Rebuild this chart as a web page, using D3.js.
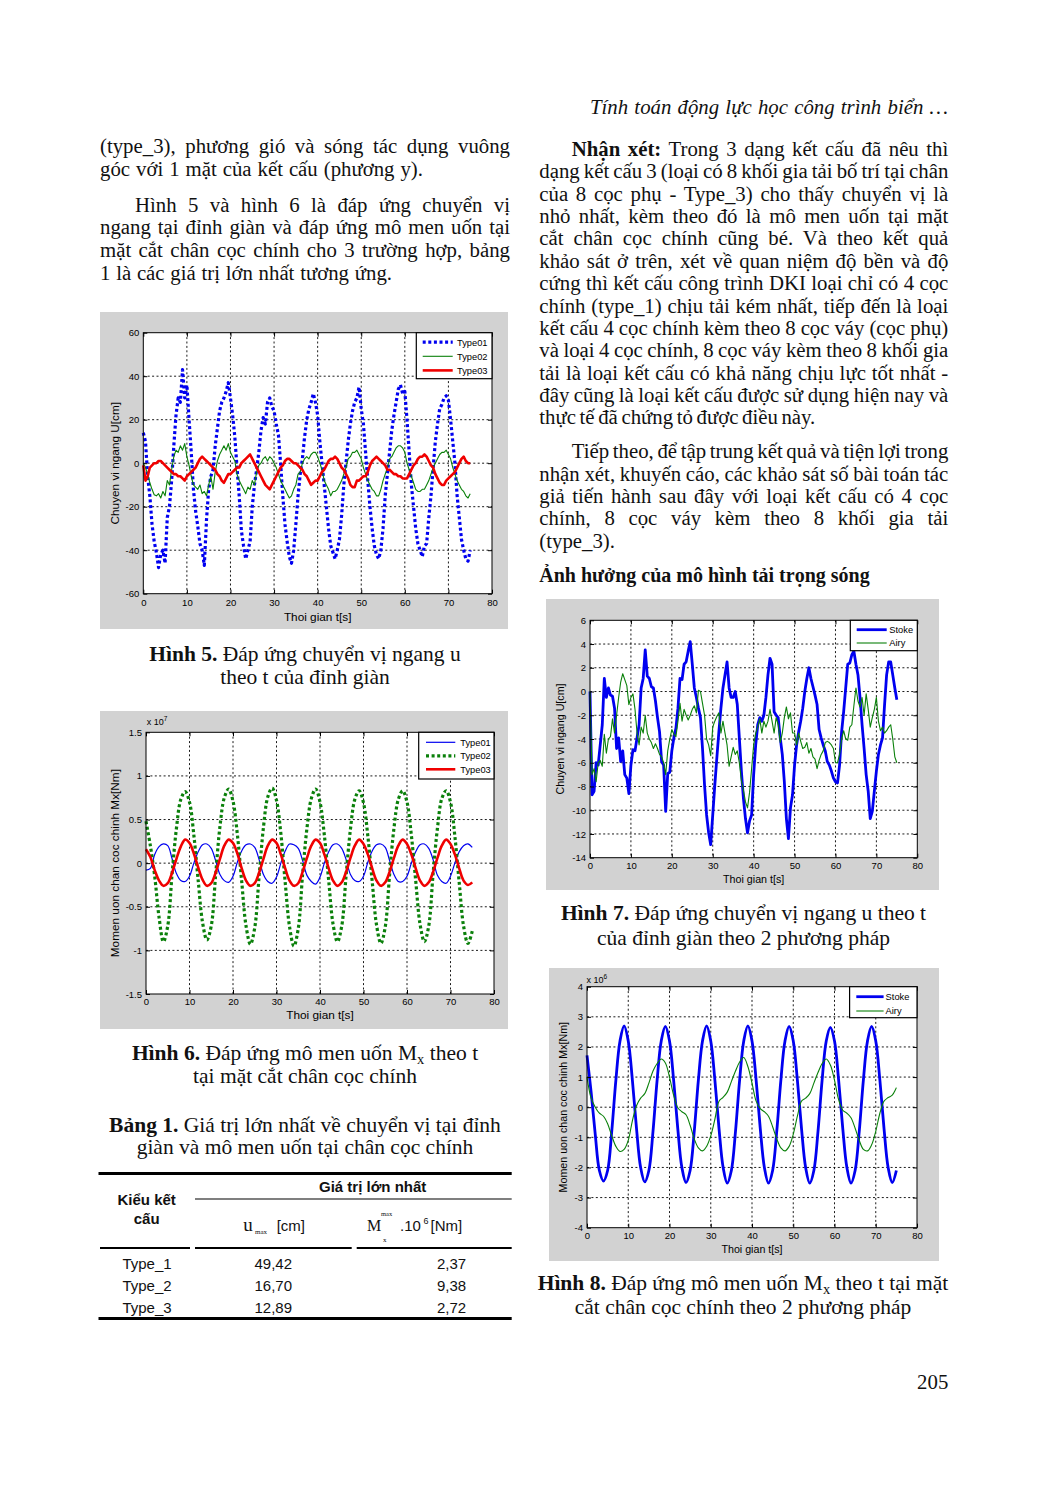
<!DOCTYPE html>
<html><head><meta charset="utf-8">
<script src="https://cdn.jsdelivr.net/npm/d3@7"></script>
<style>
html,body{margin:0;padding:0;background:#fff;}
svg{display:block;}
text{white-space:pre;}
</style></head><body>
<svg id="page" width="1048" height="1487"></svg>
<script>
// ---------------- DATA ----------------
const xTicks = [0, 10, 20, 30, 40, 50, 60, 70, 80];
const fig5YTicks = [-60, -40, -20, 0, 20, 40, 60];
const fig6YTicks = [-1.5, -1, -0.5, 0, 0.5, 1, 1.5];
const fig7YTicks = [-14, -12, -10, -8, -6, -4, -2, 0, 2, 4, 6];
const fig8YTicks = [-4, -3, -2, -1, 0, 1, 2, 3, 4];

// Hình 5 : chuyển vị U [cm], step 0.5 s
const fig5Step = 0.5;
const fig5Type01 = [
 14, 10, -6, -15, -28, -36, -41, -48, -42, -40,
 -46, -25, -20, -8, 8, 22, 30, 28, 43, 30,
 36, 20, 5, -12, -22, -29, -37, -40, -47, -26,
 -12, -6, -3, 8, 16, 24, 28, 30, 33, 37,
 30, 22, 12, -2, -15, -31, -38, -44, -40, -36,
 -20, -10, -3, 5, 15, 21, 18, 28, 30, 26,
 24, 18, 13, 0, -15, -28, -36, -43, -46, -40,
 -28, -15, -5, 2, 12, 20, 25, 28, 32, 28,
 22, 10, 0, -10, -20, -30, -38, -41, -44, -40,
 -35, -24, -10, 0, 10, 18, 24, 28, 30, 35,
 25, 18, 5, -8, -20, -30, -38, -42, -44, -40,
 -30, -15, -5, 5, 15, 22, 28, 34, 36, 32,
 33, 20, 5, -10, -20, -30, -37, -40, -43, -38,
 -37, -25, -15, -2, 10, 18, 25, 27, 30, 31,
 29, 20, 10, 0, -15, -25, -35, -40, -44, -45,
 -40];
const fig5Type02 = [
 0, -2, -5, -9, -12, -14.5, -15, -14, -16, -13,
 -15, -8, -10, -3, 3, 6, 5, 8, 6, 9,
 3, -1, -6, -10, -11, -12, -10, -14, -13, -15,
 -10, -6, -12, -4, 1, 4, 6, 8, 6, 9,
 5, 3, 1, -5, -8, -10, -12, -14, -11, -12,
 -8, -10, -4, -1, 0, 2, 3, 1, 3, 2,
 0, -2, -5, -8, -10, -12, -14, -16, -15, -12,
 -10, -5, -4, 0, 2, 3, 2, 4, 5, 5,
 3, 0, -3, -8, -10, -12, -15, -13, -13, -12,
 -10, -8, -5, -2, 2, 3, 5, 5, 6, 4,
 2, -2, -5, -8, -10, -12, -13, -15, -15, -12,
 -8, -5, -2, 2, 3, 5, 7, 8, 8, 7,
 5, 0, -3, -6, -9, -12, -13, -13, -12, -12,
 -10, -8, -5, -2, 0, 2, 4, 5, 5, 6,
 4, 2, -2, -5, -8, -10, -12, -13, -15, -16,
 -14];
const fig5Type03 = [
 -1, -8, -6, -2, -1, 0, 0, 1, 1, 0,
 -1, -2, -3, -4, -5, -5, -6, -6, -7, -8,
 -6, -5, -4, -3, -2, 0, 2, 3, 2, 1,
 0, -1, -2, -3, -5, -6, -8, -9, -7, -5,
 -5, -4, -3, -2, -2, 0, 1, 2, 3, 4,
 2, 0, -2, -4, -6, -8, -10, -11, -12, -10,
 -8, -6, -4, -2, -1, 1, 2, 2, 1, 0,
 0, -1, -2, -3, -5, -6, -8, -10, -9, -8,
 -8, -6, -4, -3, -1, 1, 2, 2, 3, 2,
 0, -2, -3, -5, -7, -10, -11, -11, -8, -8,
 -7, -6, -6, -4, -1, 1, 2, 3, 2, 1,
 0, -1, -3, -3, -4, -5, -5, -6, -6, -7,
 -7, -7, -5, -3, -1, 0, 2, 3, 3, 4,
 3, 1, -1, -2, -5, -7, -9, -10, -10, -8,
 -7, -6, -5, -4, -2, 0, 2, 3, 1, 0,
 0];

// Hình 6 : mô men Mx [x1e7 Nm], step 1 s
const fig6Step = 1;
const fig6Type01 = [
 -0.08, -0.06, 0.1, 0.19, 0.22, 0.2, 0.05, -0.12, -0.2, -0.21,
 -0.15, 0.0, 0.13, 0.21, 0.22, 0.17, 0.03, -0.13, -0.2, -0.22,
 -0.15, 0.01, 0.14, 0.21, 0.22, 0.18, 0.04, -0.13, -0.21, -0.23,
 -0.16, 0.0, 0.14, 0.22, 0.21, 0.17, 0.03, -0.14, -0.21, -0.24,
 -0.16, 0.0, 0.13, 0.21, 0.22, 0.17, 0.04, -0.13, -0.2, -0.21,
 -0.15, 0.01, 0.14, 0.21, 0.22, 0.18, 0.03, -0.13, -0.21, -0.21,
 -0.15, 0.0, 0.13, 0.21, 0.22, 0.17, 0.04, -0.14, -0.21, -0.23,
 -0.15, 0.0, 0.13, 0.2, 0.22, 0.18];
const fig6Type02 = [
 0.48, 0.2, -0.15, -0.62, -0.9, -0.72, -0.12, 0.4, 0.73, 0.82,
 0.7, 0.32, -0.2, -0.68, -0.88, -0.72, -0.14, 0.42, 0.75, 0.85,
 0.71, 0.33, -0.21, -0.72, -0.93, -0.74, -0.15, 0.41, 0.76, 0.86,
 0.72, 0.34, -0.22, -0.73, -0.95, -0.75, -0.13, 0.4, 0.74, 0.85,
 0.7, 0.32, -0.2, -0.7, -0.9, -0.72, -0.14, 0.39, 0.73, 0.83,
 0.69, 0.31, -0.21, -0.71, -0.92, -0.73, -0.13, 0.4, 0.73, 0.83,
 0.7, 0.32, -0.2, -0.7, -0.9, -0.72, -0.12, 0.4, 0.74, 0.83,
 0.7, 0.31, -0.22, -0.72, -0.92, -0.78];
const fig6Type03 = [
 0.16, 0.07, -0.08, -0.2, -0.26, -0.23, -0.11, 0.05, 0.19, 0.27,
 0.23, 0.11, -0.05, -0.19, -0.26, -0.23, -0.11, 0.05, 0.2, 0.27,
 0.23, 0.11, -0.06, -0.2, -0.26, -0.23, -0.11, 0.05, 0.2, 0.27,
 0.23, 0.1, -0.06, -0.2, -0.26, -0.23, -0.1, 0.06, 0.2, 0.27,
 0.23, 0.1, -0.06, -0.2, -0.26, -0.22, -0.1, 0.06, 0.2, 0.27,
 0.22, 0.1, -0.06, -0.2, -0.26, -0.22, -0.1, 0.06, 0.2, 0.27,
 0.22, 0.1, -0.06, -0.2, -0.26, -0.22, -0.1, 0.06, 0.2, 0.27,
 0.22, 0.1, -0.06, -0.2, -0.25, -0.22];

// Hình 7 : chuyển vị U [cm], step 0.5 s
const fig7Step = 0.5;
const fig7Stoke = [
 0, -8.7, -8.4, -6, -6.2, -4.5, -2.8, 1.1, -0.5, 0.3,
 -0.3, -0.4, -1.4, -4.8, -3.9, -5.9, -5, -7, -7.3, -8.6,
 -6.2, -4.9, -5, -3.9, -2.8, 0.3, 1.1, 3.5, 1.3, 1.1,
 0.4, 0.3, -0.8, -2.2, -3.4, -5.9, -6.2, -10.1, -6.9, -6.8,
 -5, -3.9, -3.1, -1.4, 1.1, 1.0, 2.3, 2.5, 3.4, 4.2,
 2.3, 0.3, -0.5, -1.4, -2.2, -4.8, -7.9, -10.4, -11.9, -12.9,
 -10.4, -7.9, -5.6, -3.4, -1.4, 0.3, 1.4, 2.5, 0.3, -0.5,
 -0.5, 0, -1.1, -3.9, -6.7, -9, -10.7, -11.9, -10.9, -10.4,
 -7, -4.5, -2.8, -2.2, -2.5, -2, -0.5, 1.4, 2.8, 2.3,
 -1.7, -2, -2.2, -3.9, -5.3, -7.6, -10.7, -12.4, -9.8, -8.7,
 -6.2, -4.5, -3.4, -2.5, -1.4, 0, 1.1, 2, 1.1, 0.4,
 -0.3, -1.1, -3.2, -3.9, -4.5, -5, -5.9, -6.2, -6.7, -7.3,
 -7.6, -7.7, -6.2, -3.4, -1.7, 0.3, 2.3, 2.4, 3.1, 3.4,
 2.3, 1.4, -0.5, -2.8, -4.8, -7, -8.4, -10.7, -10.1, -8.4,
 -6.7, -5.3, -4.5, -3.9, -1.1, 1.4, 2.5, 2.5, 1.4, 0.3,
 -0.7];
const fig7Airy = [
 0, -7, -6.5, -7.6, -6, -5.8, -6.3, -3.6, -5.2, -4,
 -3.8, -2.3, -3.5, -2, -0.5, 0.8, 1.5, 1, 0.5, -1.1,
 -0.5, -0.2, -1.5, -3.5, -4.5, -3, -3.5, -2, -3.5, -4,
 -4.3, -4.8, -4.4, -4.8, -5.3, -5.5, -6, -7, -5, -4,
 -3.2, -3.6, -3.8, -2.5, -1, -2.5, -1.5, -2, -2.4, -2,
 -1.5, -1.2, -1.8, 0.1, 0, -1, -2, -4, -4.5, -5.4,
 -3, -2.5, -2.1, -1.8, -3.5, -2.5, -3.5, -4.5, -6.3, -5.5,
 -4.7, -5.3, -5, -6, -7.5, -8.3, -9.3, -9.8, -8.5, -6.5,
 -4.5, -3.5, -3, -2.3, -3.5, -2.5, -3, -2.5, -1.5, -2.5,
 -3.5, -2.2, -2.8, -4.3, -3.5, -2.2, -1.3, -2.3, -1.8, -3.5,
 -3.5, -4.5, -3.5, -4.2, -4.8, -4.7, -4.3, -5.2, -4.8, -5.5,
 -5.7, -6.5, -5.8, -5.3, -5, -4.3, -4.2, -4.3, -4.5, -4.8,
 -6, -6, -5.3, -4, -3.3, -4, -4.1, -3, -2.8, -1.2,
 0.3, -0.8, -1.3, -0.5, -2, -0.2, -1.5, -3, -2.2, -1.5,
 -0.5, -2.5, -3.3, -3, -3.5, -3.3, -3, -2.8, -4, -5.5,
 -6];

// Hình 8 : mô men Mx [x1e6 Nm], step 1 s
const fig8Step = 1;
const fig8Stoke = [
 1.72, 0.5, -0.9, -2.1, -2.45, -2.1, -0.8, 0.9, 2.2, 2.7,
 2.2, 0.9, -0.7, -2.0, -2.48, -2.1, -0.8, 0.9, 2.2, 2.68,
 2.2, 0.9, -0.7, -2.0, -2.5, -2.1, -0.8, 0.9, 2.2, 2.7,
 2.2, 0.9, -0.7, -2.0, -2.52, -2.1, -0.8, 0.9, 2.2, 2.7,
 2.2, 0.9, -0.7, -2.0, -2.52, -2.1, -0.8, 0.9, 2.2, 2.68,
 2.2, 0.9, -0.7, -2.0, -2.52, -2.1, -0.8, 0.9, 2.2, 2.65,
 2.2, 0.9, -0.7, -2.0, -2.52, -2.1, -0.8, 0.9, 2.2, 2.68,
 2.2, 0.9, -0.7, -2.0, -2.5, -2.1];
const fig8Airy = [
 1.0, 0.3, 0.0, -0.2, -0.3, -0.55, -0.95, -1.3, -1.47, -1.4,
 -1.1, -0.45, 0.05, 0.3, 0.45, 0.8, 1.2, 1.45, 1.6, 1.47,
 1.0, 0.4, -0.02, -0.15, -0.25, -0.6, -1.05, -1.35, -1.45, -1.3,
 -0.95, -0.4, 0.2, 0.33, 0.5, 0.85, 1.2, 1.5, 1.65, 1.35,
 0.8, 0.2, -0.05, -0.15, -0.3, -0.65, -1.05, -1.35, -1.45, -1.3,
 -0.9, -0.3, 0.2, 0.3, 0.45, 0.8, 1.15, 1.45, 1.6, 1.4,
 0.9, 0.25, -0.1, -0.2, -0.35, -0.7, -1.1, -1.4, -1.45, -1.25,
 -0.8, -0.2, 0.2, 0.32, 0.4, 0.65];

// Bảng 1
const tableTypes = ["Type_1", "Type_2", "Type_3"];
const tableUmax = ["49,42", "16,70", "12,89"];
const tableMmax = ["2,37", "9,38", "2,72"];

// ---------------- DRAWING ----------------
const svg = d3.select('#page');
const SERIF = "'Liberation Serif','Times New Roman',Times,serif";
const SANS = "'Liberation Sans',Arial,Helvetica,sans-serif";
const FS = 20.8;
const CFS = 21.5;
const PANEL = '#d2d2d2';
const BLUE = '#0000f0', GREEN = '#0a800a', RED = '#f00000';

function fitSpacing(t, s, w) {
  if (!w) return;
  const n = (s.match(/ /g) || []).length;
  if (!n) return;
  const nat = t.node().getComputedTextLength();
  t.style('word-spacing', ((w - nat) / n) + 'px');
  const after = t.node().getComputedTextLength();
  if (Math.abs(after - nat) < 0.5 && Math.abs(w - nat) > 1) {
    t.style('word-spacing', null).attr('textLength', w).attr('lengthAdjust', 'spacing');
  }
}
function bodyLine(x, y, s, w, opts = {}) {
  const t = svg.append('text').attr('x', x).attr('y', y)
    .attr('font-family', SERIF).attr('font-size', opts.fs || FS).attr('fill', '#111');
  if (opts.italic) t.attr('font-style', 'italic');
  s.split('**').forEach((p, i) => { if (p) t.append('tspan').attr('font-weight', i % 2 ? 'bold' : null).text(p); });
  fitSpacing(t, s.replace(/\*\*/g, ''), w);
  return t;
}
function caption(cx, y, parts) {
  const t = svg.append('text').attr('x', cx).attr('y', y).attr('text-anchor', 'middle')
    .attr('font-family', SERIF).attr('font-size', CFS).attr('fill', '#111');
  let shifted = false;
  parts.forEach(p => {
    const ts = t.append('tspan').text(p.t);
    if (p.b) ts.attr('font-weight', 'bold');
    if (p.sub) { ts.attr('font-size', 14.5).attr('dy', 4); shifted = true; }
    else if (shifted) { ts.attr('dy', -4); shifted = false; }
  });
}

// Header, page number
bodyLine(590, 113.5, 'Tính toán động lực học công trình biển …', 358, { italic: true });
svg.append('text').attr('x', 948.3).attr('y', 1389).attr('text-anchor', 'end')
  .attr('font-family', SERIF).attr('font-size', FS).attr('fill', '#111').text('205');

// Left column text
const leftLines = [
  [100, 153.3, '(type_3), phương gió và sóng tác dụng vuông', 410],
  [100, 176.0, 'góc với 1 mặt của kết cấu (phương y).', 323],
  [135, 211.7, 'Hình 5 và hình 6 là đáp ứng chuyển vị', 375],
  [100, 234.3, 'ngang tại đỉnh giàn và đáp ứng mô men uốn tại', 410],
  [100, 257.0, 'mặt cắt chân cọc chính cho 3 trường hợp, bảng', 410],
  [100, 279.6, '1 là các giá trị lớn nhất tương ứng.', 292]
];
leftLines.forEach(l => bodyLine(l[0], l[1], l[2], l[3]));

// Right column text
const RX = 539.3, RW = 409, RI = 571.7;
const rightLines = [
  [RI, 156.0, '**Nhận xét:** Trong 3 dạng kết cấu đã nêu thì', RW - (RI - RX)],
  [RX, 178.4, 'dạng kết cấu 3 (loại có 8 khối gia tải bố trí tại chân', RW],
  [RX, 200.7, 'của 8 cọc phụ - Type_3) cho thấy chuyển vị là', RW],
  [RX, 223.1, 'nhỏ nhất, kèm theo đó là mô men uốn tại mặt', RW],
  [RX, 245.4, 'cắt chân cọc chính cũng bé. Và theo kết quả', RW],
  [RX, 267.8, 'khảo sát ở trên, xét về quan niệm độ bền và độ', RW],
  [RX, 290.1, 'cứng thì kết cấu công trình DKI loại chỉ có 4 cọc', RW],
  [RX, 312.5, 'chính (type_1) chịu tải kém nhất, tiếp đến là loại', RW],
  [RX, 334.8, 'kết cấu 4 cọc chính kèm theo 8 cọc váy (cọc phụ)', RW],
  [RX, 357.2, 'và loại 4 cọc chính, 8 cọc váy kèm theo 8 khối gia', RW],
  [RX, 379.5, 'tải là loại kết cấu có khả năng chịu lực tốt nhất -', RW],
  [RX, 401.9, 'đây cũng là loại kết cấu được sử dụng hiện nay và', RW],
  [RX, 424.2, 'thực tế đã chứng tỏ được điều này.', 276],
  [RI, 458.3, 'Tiếp theo, để tập trung kết quả và tiện lợi trong', RW - (RI - RX)],
  [RX, 480.7, 'nhận xét, khuyến cáo, các khảo sát số bài toán tác', RW],
  [RX, 503.0, 'giả tiến hành sau đây với loại kết cấu có 4 cọc', RW],
  [RX, 525.4, 'chính, 8 cọc váy kèm theo 8 khối gia tải', RW],
  [RX, 547.8, '(type_3).', 0]
];
rightLines.forEach(l => bodyLine(l[0], l[1], l[2], l[3]));
bodyLine(RX, 581.7, '**Ảnh hưởng của mô hình tải trọng sóng**', 0, { fs: 20 });

// Captions
caption(305, 661, [{ t: 'Hình 5.', b: true }, { t: ' Đáp ứng chuyển vị ngang u' }]);
caption(305, 683.5, [{ t: 'theo t của đỉnh giàn' }]);
caption(305, 1060, [{ t: 'Hình 6.', b: true }, { t: ' Đáp ứng mô men uốn M' }, { t: 'x', sub: true }, { t: ' theo t' }]);
caption(305, 1083, [{ t: 'tại mặt cắt chân cọc chính' }]);
caption(305, 1131.5, [{ t: 'Bảng 1.', b: true }, { t: ' Giá trị lớn nhất về chuyển vị tại đỉnh' }]);
caption(305, 1154, [{ t: 'giàn và mô men uốn tại chân cọc chính' }]);
caption(743.5, 920, [{ t: 'Hình 7.', b: true }, { t: ' Đáp ứng chuyển vị ngang u theo t' }]);
caption(743.5, 945, [{ t: 'của đỉnh giàn theo 2 phương pháp' }]);
caption(743, 1290, [{ t: 'Hình 8.', b: true }, { t: ' Đáp ứng mô men uốn M' }, { t: 'x', sub: true }, { t: ' theo t tại mặt' }]);
caption(743, 1314, [{ t: 'cắt chân cọc chính theo 2 phương pháp' }]);

// ---------- Charts ----------
function drawChart(c) {
  const g = svg.append('g');
  g.append('rect').attr('x', c.panel[0]).attr('y', c.panel[1]).attr('width', c.panel[2]).attr('height', c.panel[3]).attr('fill', PANEL);
  const [px0, py0, px1, py1] = c.plot;
  g.append('rect').attr('x', px0).attr('y', py0).attr('width', px1 - px0).attr('height', py1 - py0).attr('fill', '#fff');
  const x = d3.scaleLinear().domain([xTicks[0], xTicks[xTicks.length - 1]]).range([px0, px1]);
  const y = d3.scaleLinear().domain([c.yTicks[0], c.yTicks[c.yTicks.length - 1]]).range([py1, py0]);

  const grid = g.append('g').attr('stroke', '#000').attr('stroke-width', 0.9).attr('stroke-dasharray', '2,2.4');
  xTicks.slice(1, -1).forEach(t => grid.append('line').attr('x1', x(t)).attr('x2', x(t)).attr('y1', py0).attr('y2', py1));
  c.yTicks.slice(1, -1).forEach(t => grid.append('line').attr('x1', px0).attr('x2', px1).attr('y1', y(t)).attr('y2', y(t)));

  c.series.forEach(s => {
    const line = d3.line().x((d, i) => x(i * s.step)).y(d => y(d)).curve(s.curve || d3.curveLinear);
    g.append('path').attr('d', line(s.values)).attr('fill', 'none').attr('stroke', s.color)
      .attr('stroke-width', s.width).attr('stroke-dasharray', s.dash || null)
      .attr('stroke-linejoin', 'round');
  });

  g.append('rect').attr('x', px0).attr('y', py0).attr('width', px1 - px0).attr('height', py1 - py0)
    .attr('fill', 'none').attr('stroke', '#000').attr('stroke-width', 1);

  const fmt = d => String(d);
  const axB = g.append('g').attr('transform', `translate(0,${py1})`)
    .call(d3.axisBottom(x).tickValues(xTicks).tickSize(-4).tickFormat(fmt));
  axB.selectAll('text').attr('dy', null).attr('y', c.xTickBase - py1);
  const axL = g.append('g').attr('transform', `translate(${px0},0)`)
    .call(d3.axisLeft(y).tickValues(c.yTicks).tickSize(-4).tickPadding(4).tickFormat(fmt));
  const axT = g.append('g').attr('transform', `translate(0,${py0})`)
    .call(d3.axisTop(x).tickValues(xTicks).tickSize(-4).tickFormat(''));
  const axR = g.append('g').attr('transform', `translate(${px1},0)`)
    .call(d3.axisRight(y).tickValues(c.yTicks).tickSize(-4).tickFormat(''));
  [axB, axL, axT, axR].forEach(a => {
    a.select('.domain').remove();
    a.attr('font-family', SANS).attr('font-size', 9.5);
    a.selectAll('text').attr('fill', '#000');
    a.selectAll('line').attr('stroke', '#000');
  });

  g.append('text').attr('x', (px0 + px1) / 2).attr('y', c.xLabelBase).attr('text-anchor', 'middle')
    .attr('font-family', SANS).attr('font-size', c.labelFs).text(c.xlabel);
  g.append('text').attr('transform', `translate(${c.ylabelX},${(py0 + py1) / 2}) rotate(-90)`)
    .attr('text-anchor', 'middle').attr('dy', '0.35em')
    .attr('font-family', SANS).attr('font-size', c.labelFs).text(c.ylabel);

  if (c.exp) {
    const e = g.append('text').attr('x', c.exp[0]).attr('y', c.exp[1]).attr('font-family', SANS).attr('font-size', 9);
    e.append('tspan').text('x 10');
    e.append('tspan').attr('dy', -4).attr('font-size', 6.5).text(c.exp[2]);
  }

  const L = c.legend;
  const lx0 = px1 - L.w, ly0 = py0;
  g.append('rect').attr('x', lx0).attr('y', ly0).attr('width', L.w).attr('height', L.h)
    .attr('fill', '#fff').attr('stroke', '#000').attr('stroke-width', 1.2);
  c.series.forEach((s, k) => {
    const yy = ly0 + L.first + k * L.gap;
    g.append('line').attr('x1', lx0 + L.l0).attr('x2', lx0 + L.l1).attr('y1', yy).attr('y2', yy)
      .attr('stroke', s.color).attr('stroke-width', s.width).attr('stroke-dasharray', s.dash || null);
    g.append('text').attr('x', lx0 + L.tx).attr('y', yy + 3.3).attr('font-family', SANS).attr('font-size', 9.3).text(s.name);
  });
}

const smooth = d3.curveCatmullRom.alpha(0.5);

drawChart({
  panel: [100, 312, 408, 317], plot: [143.3, 332.7, 492, 593.7], yTicks: fig5YTicks,
  xTickBase: 606, xLabelBase: 621, labelFs: 11.8, ylabelX: 115,
  xlabel: 'Thoi gian t[s]', ylabel: 'Chuyen vi ngang U[cm]',
  series: [
    { name: 'Type01', values: fig5Type01, step: fig5Step, color: BLUE, width: 3.2, dash: '3,2.6' },
    { name: 'Type02', values: fig5Type02, step: fig5Step, color: GREEN, width: 1.1 },
    { name: 'Type03', values: fig5Type03, step: fig5Step, color: RED, width: 2.6 }
  ],
  legend: { w: 75.7, h: 46, first: 9.5, gap: 14.1, l0: 6.4, l1: 36.4, tx: 40.7 }
});

drawChart({
  panel: [100, 711, 408, 318], plot: [146, 732.3, 494, 994], yTicks: fig6YTicks,
  xTickBase: 1005, xLabelBase: 1019, labelFs: 11.8, ylabelX: 115, exp: [146.7, 725, '7'],
  xlabel: 'Thoi gian t[s]', ylabel: 'Momen uon chan coc chinh Mx[Nm]',
  series: [
    { name: 'Type01', values: fig6Type01, step: fig6Step, color: BLUE, width: 1.2, curve: smooth },
    { name: 'Type02', values: fig6Type02, step: fig6Step, color: GREEN, width: 3.2, dash: '3,2.6', curve: smooth },
    { name: 'Type03', values: fig6Type03, step: fig6Step, color: RED, width: 2.6, curve: smooth }
  ],
  legend: { w: 75.3, h: 46.7, first: 10, gap: 13.5, l0: 7.3, l1: 36.6, tx: 41.6 }
});

drawChart({
  panel: [546, 599, 393, 291], plot: [590, 620.3, 917.3, 857.7], yTicks: fig7YTicks,
  xTickBase: 869.5, xLabelBase: 883, labelFs: 10.7, ylabelX: 560,
  xlabel: 'Thoi gian t[s]', ylabel: 'Chuyen vi ngang U[cm]',
  series: [
    { name: 'Stoke', values: fig7Stoke, step: fig7Step, color: BLUE, width: 2.8 },
    { name: 'Airy', values: fig7Airy, step: fig7Step, color: GREEN, width: 1.1 }
  ],
  legend: { w: 67, h: 30.4, first: 9.4, gap: 13.3, l0: 6.4, l1: 36.4, tx: 39 }
});

drawChart({
  panel: [549, 968, 390, 293], plot: [587, 986.7, 917, 1227.7], yTicks: fig8YTicks,
  xTickBase: 1239.5, xLabelBase: 1252.5, labelFs: 10.7, ylabelX: 563, exp: [586.5, 983, '6'],
  xlabel: 'Thoi gian t[s]', ylabel: 'Momen uon chan coc chinh Mx[Nm]',
  series: [
    { name: 'Stoke', values: fig8Stoke, step: fig8Step, color: BLUE, width: 2.8, curve: smooth },
    { name: 'Airy', values: fig8Airy, step: fig8Step, color: GREEN, width: 1.1, curve: smooth }
  ],
  legend: { w: 67.4, h: 31, first: 10, gap: 14.3, l0: 6.7, l1: 34, tx: 36 }
});

// ---------- Table ----------
const tg = svg.append('g');
function rule(x0, x1, yy, w) {
  tg.append('line').attr('x1', x0).attr('x2', x1).attr('y1', yy).attr('y2', yy).attr('stroke', '#000').attr('stroke-width', w);
}
function ttext(xx, yy, s, o = {}) {
  return tg.append('text').attr('x', xx).attr('y', yy).attr('text-anchor', o.anchor || 'middle')
    .attr('font-family', o.ff || SANS).attr('font-size', o.fs || 15).attr('font-weight', o.b ? 'bold' : null)
    .attr('fill', '#111').text(s);
}
rule(98.5, 511.7, 1173.5, 3);
ttext(372.7, 1191.5, 'Giá trị lớn nhất', { b: true });
rule(195, 511.7, 1199, 1.2);
ttext(146.7, 1204.5, 'Kiểu kết', { b: true });
ttext(146.7, 1223.5, 'cấu', { b: true });
ttext(243.3, 1230.5, 'u', { anchor: 'start', ff: SERIF, fs: 19 });
ttext(255, 1233.5, 'max', { anchor: 'start', ff: SERIF, fs: 7 });
ttext(276.7, 1230.5, '[cm]', { anchor: 'start' });
ttext(367, 1230.5, 'M', { anchor: 'start', ff: SERIF, fs: 16 });
ttext(381, 1215.5, 'max', { anchor: 'start', ff: SERIF, fs: 6.5 });
ttext(383, 1241.5, 'x', { anchor: 'start', ff: SERIF, fs: 7 });
ttext(400, 1230.5, '.10', { anchor: 'start' });
ttext(423.5, 1224, '6', { anchor: 'start', fs: 9 });
ttext(430.5, 1230.5, '[Nm]', { anchor: 'start' });
rule(100, 190, 1248, 2);
rule(195, 351.7, 1248, 2);
rule(356.7, 511.7, 1248, 2);
const rowY = [1268.5, 1291, 1313.2];
tableTypes.forEach((t, i) => {
  ttext(147, rowY[i], t);
  ttext(273.3, rowY[i], tableUmax[i]);
  ttext(451.5, rowY[i], tableMmax[i]);
});
rule(98.5, 511.7, 1318.5, 3);
</script>
</body></html>
